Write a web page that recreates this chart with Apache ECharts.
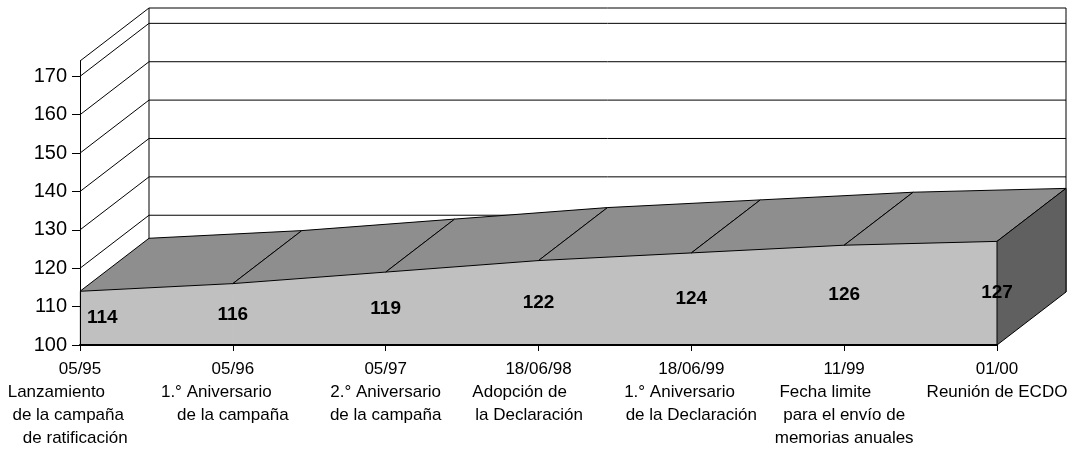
<!DOCTYPE html>
<html>
<head>
<meta charset="utf-8">
<script src="https://cdn.jsdelivr.net/npm/echarts@6/dist/echarts.min.js"></script>
<style>
html, body { margin: 0; padding: 0; background: #fff; }
#main { width: 1079px; height: 450px; }
</style>
</head>
<body>
<div id="main"></div>
<script>
// fechas del eje x y texto de cada evento
var fechas = ['05/95', '05/96', '05/97', '18/06/98', '18/06/99', '11/99', '01/00'];
var eventos = [
    'Lanzamiento          \nde la campaña     \nde ratificación  ',
    '1.° Aniversario       \nde la campaña',
    '2.° Aniversario\nde la campaña',
    'Adopción de        \nla Declaración    ',
    '1.° Aniversario     \nde la Declaración',
    'Fecha limite        \npara el envío de\nmemorias anuales',
    'Reunión de ECDO'
];
// número de ratificaciones
var valores = [114, 116, 119, 122, 124, 126, 127];
// marcas del eje y
var marcasY = [100, 110, 120, 130, 140, 150, 160, 170];
var minY = 100, maxY = 174;

// profundidad del efecto 3D (px)
var DX = 69, DY = -53;
var fuente = 'Liberation Sans, Arial, sans-serif';

function fondo(p) {
    return [p[0] + DX, p[1] + DY];
}

// paredes: lineas del fondo y de la pared izquierda
function paredes(params, api) {
    var v = api.value(1);
    var a = api.coord([0, v]);
    var b = api.coord([valores.length - 1, v]);
    var estilo = { stroke: '#000', lineWidth: 1 };
    var hijos = [
        { type: 'line', shape: { x1: a[0] + DX, y1: a[1] + DY, x2: b[0] + DX, y2: b[1] + DY }, style: estilo },
        { type: 'line', shape: { x1: a[0], y1: a[1], x2: a[0] + DX, y2: a[1] + DY }, style: estilo }
    ];
    if (params.dataIndex === 0) {
        var a0 = api.coord([0, minY]), a1 = api.coord([0, maxY]);
        var b0 = api.coord([valores.length - 1, minY]), b1 = api.coord([valores.length - 1, maxY]);
        hijos.push({ type: 'line', shape: { x1: a0[0] + DX, y1: a0[1] + DY, x2: a1[0] + DX, y2: a1[1] + DY }, style: estilo });
        hijos.push({ type: 'line', shape: { x1: b0[0] + DX, y1: b0[1] + DY, x2: b1[0] + DX, y2: b1[1] + DY }, style: { stroke: '#555', lineWidth: 1.5 } });
    }
    return { type: 'group', children: hijos };
}

// area 3D: cara frontal, cara superior y lateral derecho
function area(params, api) {
    var i = params.dataIndex;
    var p = api.coord([i, valores[i]]);
    var base = api.coord([i, minY]);
    var hijos = [];
    if (i < valores.length - 1) {
        var q = api.coord([i + 1, valores[i + 1]]);
        var qb = api.coord([i + 1, minY]);
        hijos.push({ type: 'polygon', z2: 1, shape: { points: [p, q, qb, base] },
            style: { fill: '#C0C0C0', stroke: '#C0C0C0', lineWidth: 1 } });
        hijos.push({ type: 'polygon', z2: 2, shape: { points: [p, q, fondo(q), fondo(p)] },
            style: { fill: '#8E8E8E', stroke: '#000', lineWidth: 1 } });
    } else {
        hijos.push({ type: 'polygon', z2: 2, shape: { points: [p, fondo(p), fondo(base), base] },
            style: { fill: '#606060', stroke: '#000', lineWidth: 1 } });
    }
    hijos.push({
        type: 'text', z2: 3,
        x: i === 0 ? p[0] + 7 : p[0],
        y: (p[1] + base[1]) / 2,
        style: {
            text: String(valores[i]),
            font: 'bold 19px ' + fuente,
            fill: '#000',
            align: i === 0 ? 'left' : 'center',
            verticalAlign: 'middle'
        }
    });
    return { type: 'group', children: hijos };
}

var myChart = echarts.init(document.getElementById('main'));

var option = {
    animation: false,
    grid: { left: 80, right: 82, top: 61, bottom: 105 },
    xAxis: {
        type: 'category',
        boundaryGap: false,
        data: fechas,
        z: 5,
        axisLine: { lineStyle: { color: '#000', width: 2 } },
        axisTick: { length: 6, lineStyle: { color: '#000' } },
        axisLabel: {
            interval: 0,
            margin: 13,
            color: '#000',
            fontFamily: fuente,
            fontSize: 17,
            lineHeight: 23,
            formatter: function (v, idx) { return v + '\n' + eventos[idx]; }
        },
        splitLine: { show: false }
    },
    yAxis: {
        type: 'value',
        min: minY,
        max: maxY,
        interval: 10,
        z: 5,
        axisLine: { show: true, lineStyle: { color: '#000' } },
        axisTick: { show: true, length: 8, customValues: marcasY, lineStyle: { color: '#000' } },
        axisLabel: { customValues: marcasY, margin: 13, color: '#000', fontFamily: fuente, fontSize: 20 },
        splitLine: { show: false }
    },
    series: [
        {
            name: 'paredes',
            type: 'custom',
            renderItem: paredes,
            data: marcasY.concat([maxY]).map(function (v) { return [0, v]; }),
            z: 1,
            silent: true
        },
        {
            name: 'ratificaciones',
            type: 'custom',
            renderItem: area,
            data: valores.map(function (v, i) { return [i, v]; }),
            z: 2,
            silent: true
        }
    ]
};

myChart.setOption(option);
</script>
</body>
</html>
